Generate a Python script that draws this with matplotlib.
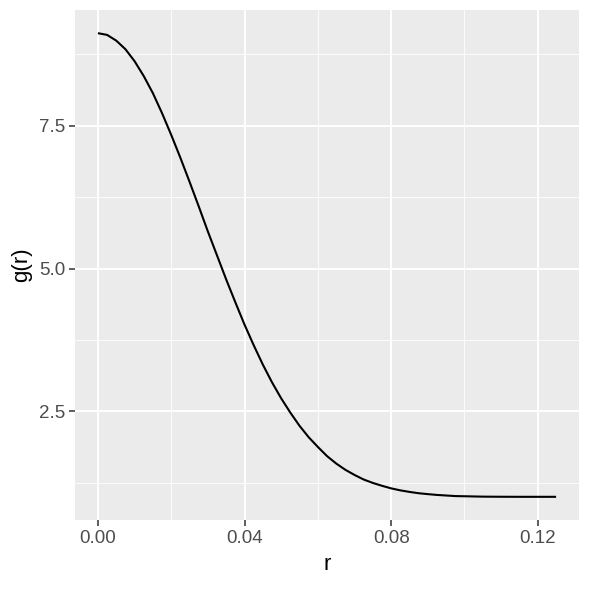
import matplotlib
matplotlib.use("Agg")
import matplotlib.pyplot as plt

r_vals = [0.0000, 0.0025, 0.0050, 0.0075, 0.0100, 0.0125, 0.0150, 0.0175,
          0.0200, 0.0225, 0.0250, 0.0275, 0.0300, 0.0325, 0.0350, 0.0375,
          0.0400, 0.0425, 0.0450, 0.0475, 0.0500, 0.0525, 0.0550, 0.0575,
          0.0600, 0.0625, 0.0650, 0.0675, 0.0700, 0.0725, 0.0750, 0.0775,
          0.0800, 0.0825, 0.0850, 0.0875, 0.0900, 0.0925, 0.0950, 0.0975,
          0.1000, 0.1050, 0.1100, 0.1150, 0.1200, 0.1250]
g_vals = [9.12, 9.09, 8.99, 8.84, 8.63, 8.37, 8.07, 7.72,
          7.34, 6.94, 6.52, 6.09, 5.65, 5.23, 4.81, 4.41,
          4.02, 3.66, 3.32, 3.01, 2.73, 2.48, 2.25, 2.05,
          1.88, 1.72, 1.59, 1.48, 1.39, 1.31, 1.25, 1.20,
          1.155, 1.12, 1.093, 1.07, 1.054, 1.04, 1.03, 1.02,
          1.017, 1.01, 1.008, 1.007, 1.007, 1.007]

x_ticks = [0.00, 0.04, 0.08, 0.12]
x_labels = ["0.00", "0.04", "0.08", "0.12"]
y_ticks = [2.5, 5.0, 7.5]
y_labels = ["2.5", "5.0", "7.5"]
x_minor = [0.02, 0.06, 0.10]
y_minor = [1.25, 3.75, 6.25, 8.75]

plt.rcParams['font.family'] = ['Liberation Sans', 'DejaVu Sans']

fig = plt.figure(figsize=(5.9, 5.9), dpi=100)
ax = fig.add_axes([75/590, 1-520/590, (579-75)/590, (520-10)/590])
ax.set_facecolor("#EBEBEB")
for s in ax.spines.values():
    s.set_visible(False)

xmin, xmax = min(r_vals), max(r_vals)
ymin, ymax = min(g_vals), max(g_vals)
dx = (xmax - xmin) * 0.05
dy = (ymax - ymin) * 0.05
ax.set_xlim(xmin - dx, xmax + dx)
ax.set_ylim(ymin - dy, ymax + dy)

for v in x_minor:
    ax.axvline(v, color="white", lw=0.6, zorder=0.5)
for v in y_minor:
    ax.axhline(v, color="white", lw=0.6, zorder=0.5)
for v in x_ticks:
    ax.axvline(v, color="white", lw=1.4, zorder=0.6)
for v in y_ticks:
    ax.axhline(v, color="white", lw=1.4, zorder=0.6)

ax.plot(r_vals, g_vals, color="black", lw=1.5, zorder=2,
        solid_joinstyle="round", solid_capstyle="butt")

ax.set_xticks(x_ticks)
ax.set_xticklabels(x_labels)
ax.set_yticks(y_ticks)
ax.set_yticklabels(y_labels)
ax.tick_params(axis="both", length=4, width=1.1, color="#333333",
               labelcolor="#4D4D4D", labelsize=13.5, pad=3)
ax.set_xlabel("r", fontsize=16, color="black", labelpad=5)
ax.set_ylabel("g(r)", fontsize=16, color="black", labelpad=5)

fig.savefig("out.png", dpi=100, facecolor="white")
